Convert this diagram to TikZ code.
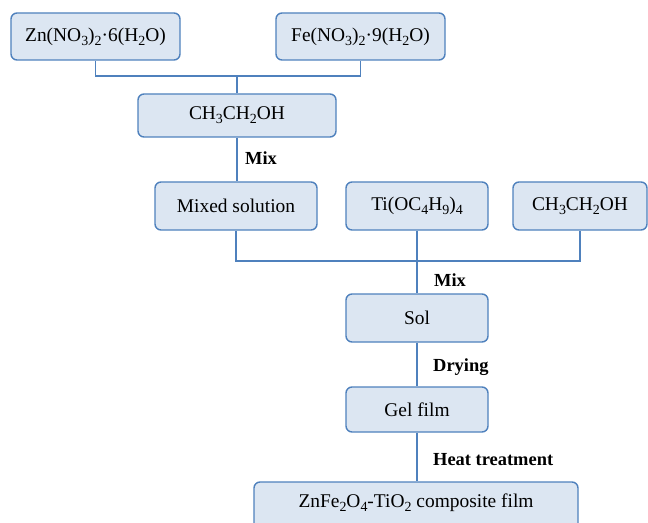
\documentclass[tikz,border=0pt]{standalone}
\usepackage{fontspec}
\setmainfont{Liberation Serif}
\definecolor{boxfill}{HTML}{DCE6F2}
\definecolor{boxline}{HTML}{4F81BD}
\newcommand\chemsub[1]{\raisebox{-0.45ex}{\fontsize{14}{14}\selectfont #1}}
\begin{document}
\begin{tikzpicture}[x=1bp,y=-1bp,
  box/.style={draw=boxline, line width=1.4bp, fill=boxfill, rounded corners=6bp, inner sep=0pt,
    font=\fontsize{19.5}{23}\selectfont\rmfamily},
  conn/.style={draw=boxline, line width=1.1bp},
  lab/.style={anchor=west, inner sep=0pt, font=\fontsize{18.5}{22}\selectfont\rmfamily\bfseries}]
\useasboundingbox (0,0) rectangle (648,523);
\clip (0,0) rectangle (648,523);
\node[box, minimum width=169bp, minimum height=47bp] (zn) at (95.5,36.5) {Zn(NO\chemsub{3})\chemsub{2}·6(H\chemsub{2}O)};
\node[box, minimum width=169bp, minimum height=47bp] (fe) at (360.5,36.5) {Fe(NO\chemsub{3})\chemsub{2}·9(H\chemsub{2}O)};
\node[box, minimum width=198bp, minimum height=43bp] (eth1) at (237,115.5) {CH\chemsub{3}CH\chemsub{2}OH};
\node[box, minimum width=162bp, minimum height=48bp] (mixed) at (236,206) {Mixed solution\hspace{8bp}};
\node[box, minimum width=142bp, minimum height=48bp] (ti) at (417,206) {Ti(OC\chemsub{4}H\chemsub{9})\chemsub{4}};
\node[box, minimum width=134bp, minimum height=48bp] (eth2) at (580,206) {CH\chemsub{3}CH\chemsub{2}OH};
\node[box, minimum width=142bp, minimum height=48bp] (sol) at (417,318) {Sol};
\node[box, minimum width=142bp, minimum height=45bp] (gel) at (417,409.5) {Gel film};
\node[box, minimum width=324bp, minimum height=48bp, text depth=10bp] (final) at (416,506) {ZnFe\chemsub{2}O\chemsub{4}-TiO\chemsub{2} composite film};
\coordinate (j1) at (237,76);
\coordinate (j2) at (417,261);
\draw[conn] (zn.south) |- (j1) -| (fe.south);
\draw[conn] (j1) -- (eth1.north);
\draw[conn] (eth1.south) -- (eth1.south |- mixed.north);
\draw[conn] (mixed.south) |- (j2) -| (eth2.south);
\draw[conn] (ti.south) -- (sol.north);
\draw[conn] (sol.south) -- (gel.north);
\draw[conn] (gel.south) -- (gel.south |- final.north);
\node[lab] (m1) at (245,158) {Mix};
\node[lab] (m2) at (434,280) {Mix};
\node[lab] (dr) at (433,367) {Drying};
\node[lab] (ht) at (433,460) {Heat treatment};
\end{tikzpicture}
\end{document}
